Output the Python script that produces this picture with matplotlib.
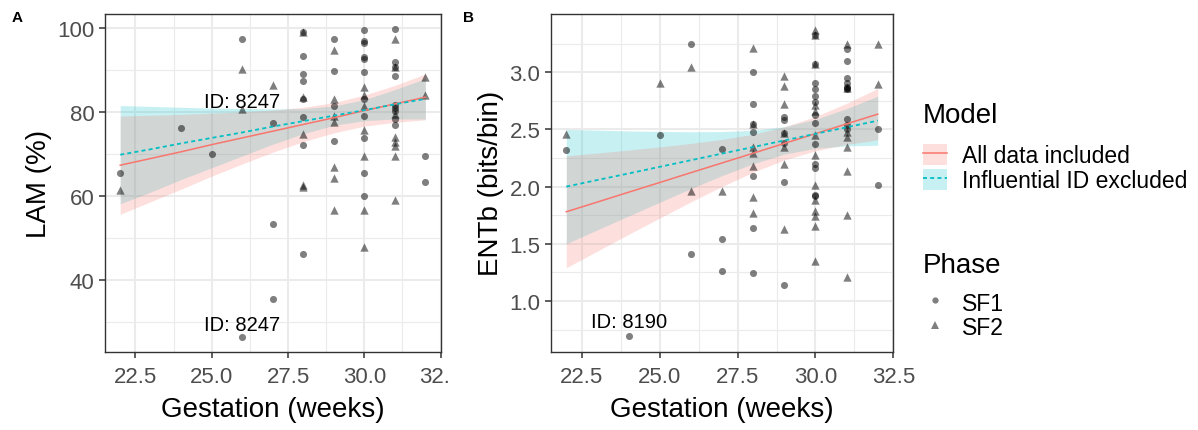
"""
Panel doble: LAM y ENTb frente a semanas de gestación
"""
import matplotlib
matplotlib.use('Agg')
import matplotlib.pyplot as plt
from matplotlib.lines import Line2D
from matplotlib.patches import Patch
from matplotlib.ticker import FixedLocator
from matplotlib.transforms import Bbox, TransformedBbox

plt.rcParams['font.family'] = ['Liberation Sans', 'DejaVu Sans']

# ---- Panel A: LAM (%) ----
gest_a_sf1 = [22, 24, 25, 26, 26, 27, 27, 27,
              28, 28, 28, 28, 28, 28, 28, 28,
              29, 29, 29, 29,
              30, 30, 30, 30, 30, 30, 30, 30, 30, 30, 30,
              31, 31, 31, 31, 31, 31, 31, 31, 31,
              32, 32]
lam_sf1 = [65.5, 76.2, 70.0, 97.4, 26.6, 77.5, 53.4, 35.5,
           99.0, 93.4, 89.1, 87.5, 83.2, 78.8, 72.1, 46.3,
           97.4, 89.9, 81.6, 73.1,
           99.5, 97.0, 96.5, 93.2, 92.8, 89.5, 83.2, 79.2, 73.8, 65.5, 60.0,
           99.8, 92.0, 90.7, 88.7, 81.8, 81.0, 80.2, 78.5, 77.0,
           69.6, 63.4]

gest_a_sf2 = [22, 26, 26, 27,
              28, 28, 28, 28, 28,
              29, 29, 29, 29, 29, 29, 29,
              30, 30, 30, 30, 30, 30, 30,
              31, 31, 31, 31, 31, 31, 31, 31,
              32, 32]
lam_sf2 = [61.4, 90.4, 80.8, 86.5,
           99.0, 83.6, 74.9, 62.2, 62.6,
           94.8, 83.2, 79.2, 77.6, 67.0, 64.3, 56.8,
           86.0, 84.0, 81.6, 75.8, 69.6, 56.8, 47.9,
           97.5, 90.7, 79.5, 74.0, 73.0, 72.0, 69.6, 59.1,
           88.5, 84.0]

# ---- Panel B: ENTb (bits/bin) ----
gest_b_sf1 = [22, 24, 25, 26, 26, 27, 27, 27,
              28, 28, 28, 28, 28, 28, 28,
              29, 29, 29, 29, 29, 29,
              30, 30, 30, 30, 30, 30, 30, 30, 30, 30, 30, 30, 30,
              31, 31, 31, 31, 31, 31, 31, 31, 31, 31,
              32, 32]
ent_sf1 = [2.32, 0.69, 2.45, 3.25, 1.41, 2.33, 1.54, 1.265,
           3.00, 2.72, 2.55, 2.48, 2.09, 1.64, 1.245,
           2.61, 2.58, 2.47, 2.38, 2.04, 1.135,
           3.33, 3.07, 2.91, 2.85, 2.79, 2.74, 2.63, 2.56, 2.37, 2.20, 2.16, 1.93, 1.92,
           3.20, 3.10, 2.95, 2.91, 2.87, 2.86, 2.85, 2.59, 2.54, 2.50,
           2.50, 2.01]

gest_b_sf2 = [22, 25, 26, 26, 27,
              28, 28, 28, 28, 28, 28, 28,
              29, 29, 29, 29, 29, 29, 29,
              30, 30, 30, 30, 30, 30, 30, 30, 30, 30, 30, 30, 30,
              31, 31, 31, 31, 31, 31, 31, 31,
              32, 32]
ent_sf2 = [2.46, 2.91, 3.05, 1.96, 1.96,
           3.21, 2.55, 2.35, 2.29, 2.18, 1.91, 1.77,
           2.97, 2.88, 2.72, 2.47, 2.35, 2.20, 1.63,
           3.37, 3.33, 3.07, 2.71, 2.66, 2.45, 2.28, 2.01, 1.88, 1.79, 1.74, 1.655, 1.35,
           3.25, 2.86, 2.48, 2.43, 2.35, 2.14, 1.75, 1.21,
           3.25, 2.90]

# ---- Ajustes de los modelos ----
semanas_fit = [22, 23, 24, 25, 26, 27, 28, 29, 30, 31, 32]

lam_todos = [67.4, 69.0, 70.6, 72.3, 73.9, 75.5, 77.1, 78.7, 80.4, 82.0, 83.6]
lam_todos_lo = [55.7, 58.7, 61.7, 64.8, 67.7, 70.5, 73.0, 75.1, 76.7, 77.6, 78.2]
lam_todos_hi = [79.1, 79.3, 79.5, 79.8, 80.1, 80.5, 81.2, 82.3, 84.1, 86.4, 89.1]
lam_excl = [69.9, 71.2, 72.6, 73.9, 75.2, 76.6, 77.9, 79.2, 80.5, 81.9, 83.2]
lam_excl_lo = [58.2, 61.0, 64.0, 66.8, 69.6, 72.4, 74.9, 76.9, 78.0, 78.4, 78.4]
lam_excl_hi = [81.6, 81.4, 81.2, 81.0, 80.9, 80.8, 80.9, 81.5, 83.0, 85.4, 88.0]

ent_todos = [1.780, 1.865, 1.951, 2.036, 2.122, 2.207, 2.292, 2.378, 2.463, 2.549, 2.634]
ent_todos_lo = [1.290, 1.436, 1.582, 1.725, 1.866, 2.001, 2.126, 2.233, 2.313, 2.369, 2.409]
ent_todos_hi = [2.270, 2.294, 2.320, 2.347, 2.378, 2.413, 2.458, 2.523, 2.613, 2.729, 2.859]
ent_excl = [2.000, 2.058, 2.115, 2.173, 2.231, 2.289, 2.346, 2.404, 2.462, 2.519, 2.577]
ent_excl_lo = [1.500, 1.622, 1.743, 1.863, 1.982, 2.096, 2.200, 2.284, 2.335, 2.356, 2.362]
ent_excl_hi = [2.500, 2.494, 2.487, 2.483, 2.480, 2.482, 2.492, 2.524, 2.589, 2.682, 2.792]

ROJO = '#F8766D'
CIAN = '#00BFC4'
ALFA_BANDA = 0.22


def estilo_bw(ax, yticks, yminor):
    """Imita theme_bw de ggplot"""
    ax.set_facecolor('white')
    for sp in ax.spines.values():
        sp.set_color('#333333')
        sp.set_linewidth(1.0)
    ax.set_xlim(21.5, 32.5)
    ax.xaxis.set_major_locator(FixedLocator([22.5, 25.0, 27.5, 30.0, 32.5]))
    ax.xaxis.set_minor_locator(FixedLocator([23.75, 26.25, 28.75, 31.25]))
    ax.yaxis.set_major_locator(FixedLocator(yticks))
    ax.yaxis.set_minor_locator(FixedLocator(yminor))
    ax.grid(which='major', color='#EBEBEB', lw=1.5)
    ax.grid(which='minor', color='#EBEBEB', lw=0.8)
    ax.set_axisbelow(True)
    ax.tick_params(which='major', length=4.5, width=1.1, color='#333333',
                   labelsize=16, labelcolor='#4D4D4D', pad=3)
    ax.tick_params(axis='x', which='major', pad=5.5)
    ax.tick_params(which='minor', length=0)
    ax.set_xlabel('Gestation (weeks)', fontsize=20, labelpad=7)


def dibujar_panel(ax, x1, y1, x2, y2, todos, todos_lo, todos_hi, excl, excl_lo, excl_hi):
    # la banda cian va debajo y la roja encima: la mezcla queda gris
    ax.fill_between(semanas_fit, excl_lo, excl_hi, color=CIAN, alpha=ALFA_BANDA, lw=0, zorder=2)
    ax.fill_between(semanas_fit, todos_lo, todos_hi, color=ROJO, alpha=ALFA_BANDA, lw=0, zorder=2)
    ax.scatter(x1, y1, marker='o', s=26, color='black', alpha=0.5, lw=0, zorder=3)
    ax.scatter(x2, y2, marker='^', s=36, color='black', alpha=0.5, lw=0, zorder=3)
    ax.plot(semanas_fit, todos, color=ROJO, lw=1.1, zorder=4)
    ax.plot(semanas_fit, excl, color=CIAN, lw=1.3, dashes=(2.2, 1.8), zorder=4)


fig = plt.figure(figsize=(11.98, 4.31), dpi=100)
ax_a = fig.add_axes([0.0876, 0.1817, 0.2802, 0.7835])
ax_b = fig.add_axes([0.4597, 0.1817, 0.2860, 0.7835])

# Panel A
dibujar_panel(ax_a, gest_a_sf1, lam_sf1, gest_a_sf2, lam_sf2,
              lam_todos, lam_todos_lo, lam_todos_hi, lam_excl, lam_excl_lo, lam_excl_hi)
estilo_bw(ax_a, [40, 60, 80, 100], [30, 50, 70, 90])
ax_a.set_ylim(23.0, 103.4)
ax_a.set_yticklabels(['40', '60', '80', '100'])
ax_a.set_ylabel('LAM (%)', fontsize=20, labelpad=4)
ax_a.text(26, 81.3, 'ID: 8247', fontsize=14.5, ha='center', va='baseline', zorder=5)
ax_a.text(26, 28.2, 'ID: 8247', fontsize=14.5, ha='center', va='baseline', zorder=5)

# la etiqueta 32.5 queda cortada por el borde del subpanel
corte = TransformedBbox(Bbox([[0, 0], [451 / 1198, 1]]), fig.transFigure)
for t in ax_a.xaxis.get_major_ticks():
    t.label1.set_clip_box(corte)
    t.label1.set_clip_on(True)

# Panel B
dibujar_panel(ax_b, gest_b_sf1, ent_sf1, gest_b_sf2, ent_sf2,
              ent_todos, ent_todos_lo, ent_todos_hi, ent_excl, ent_excl_lo, ent_excl_hi)
estilo_bw(ax_b, [1.0, 1.5, 2.0, 2.5, 3.0], [0.75, 1.25, 1.75, 2.25, 2.75, 3.25])
ax_b.set_ylim(0.556, 3.51)
ax_b.set_yticklabels(['1.0', '1.5', '2.0', '2.5', '3.0'])
ax_b.set_ylabel('ENTb (bits/bin)', fontsize=20, labelpad=4)
ax_b.text(24, 0.775, 'ID: 8190', fontsize=14.5, ha='center', va='baseline', zorder=5)

# Etiquetas de panel
fig.text(0.0095, 0.948, 'A', fontsize=11, fontweight='bold')
fig.text(0.3865, 0.948, 'B', fontsize=11, fontweight='bold')

# Leyendas
h_modelo = [(Patch(facecolor=ROJO, alpha=ALFA_BANDA, lw=0), Line2D([], [], color=ROJO, lw=1.1)),
            (Patch(facecolor=CIAN, alpha=ALFA_BANDA, lw=0), Line2D([], [], color=CIAN, lw=1.3, dashes=(2.2, 1.8)))]
leg1 = fig.legend(h_modelo, ['All data included', 'Influential ID excluded'],
                  title='Model', title_fontsize=20, fontsize=16.5, frameon=False,
                  loc='upper left', bbox_to_anchor=(0.7705, 0.761),
                  borderpad=0, borderaxespad=0, handlelength=1.05, handleheight=1.05,
                  handletextpad=0.65, labelspacing=0.05, alignment='left')
leg1._legend_box.sep = 11.5

h_fase = [Line2D([], [], marker='o', ls='none', color='black', alpha=0.5, markersize=4.5, mew=0),
          Line2D([], [], marker='^', ls='none', color='black', alpha=0.5, markersize=5.5, mew=0)]
leg2 = fig.legend(h_fase, ['SF1', 'SF2'],
                  title='Phase', title_fontsize=20, fontsize=16.5, frameon=False,
                  loc='upper left', bbox_to_anchor=(0.7705, 0.413),
                  borderpad=0, borderaxespad=0, handlelength=1.05, handleheight=1.05,
                  handletextpad=0.65, labelspacing=0.05, alignment='left')
leg2._legend_box.sep = 9.5

fig.savefig('out.png', dpi=100, facecolor='white')
